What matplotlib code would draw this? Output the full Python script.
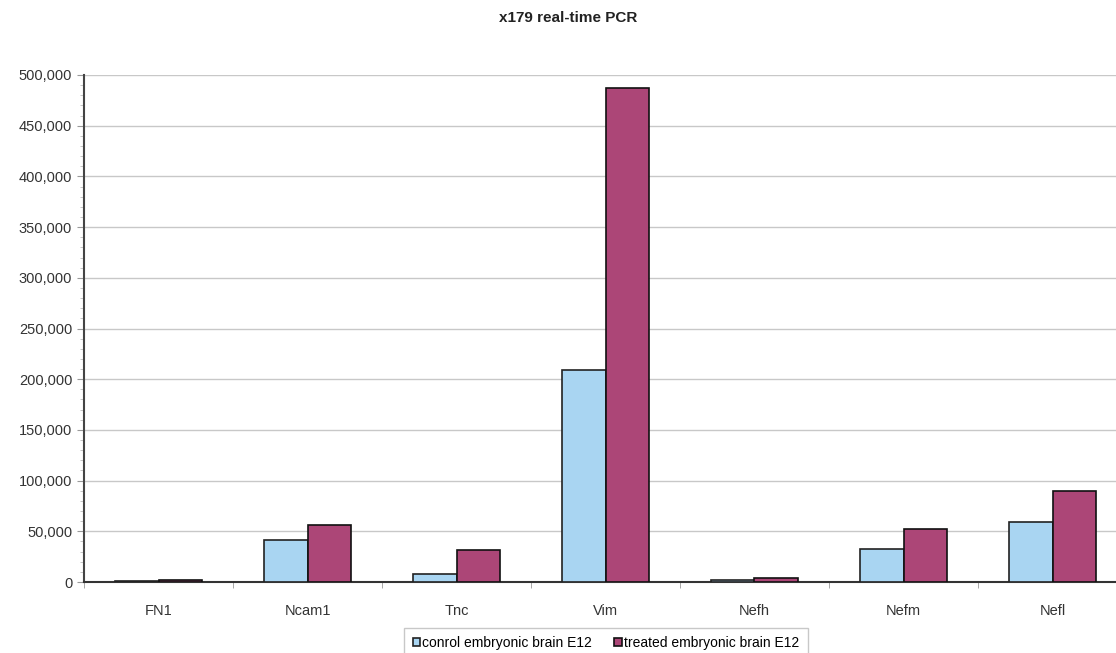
import matplotlib.pyplot as plt
import numpy as np
from matplotlib.ticker import FuncFormatter, MultipleLocator

plt.rcParams['font.family'] = ['Liberation Sans', 'DejaVu Sans']

genes = ['FN1', 'Ncam1', 'Tnc', 'Vim', 'Nefh', 'Nefm', 'Nefl']
control = [1000, 41500, 8000, 209500, 1500, 32500, 59000]
treated = [1500, 56500, 31500, 487500, 4000, 52500, 90000]
series_names = ['conrol embryonic brain E12', 'treated embryonic brain E12']

W, H = 1116, 653
fig = plt.figure(figsize=(W / 100, H / 100), dpi=100)
ax = fig.add_axes([84 / W, (H - 582) / H, 1043 / W, 507 / H])

x = np.arange(len(genes))
bw = 0.29
ax.bar(x - bw / 2, control, bw, color='#a9d5f2', edgecolor='#222222', lw=1.2,
       label=series_names[0], zorder=3)
ax.bar(x + bw / 2, treated, bw, color='#ac4677', edgecolor='#111111', lw=1.2,
       label=series_names[1], zorder=3)

ax.set_xlim(-0.5, len(genes) - 0.5)
ax.set_ylim(0, 500000)
ax.yaxis.set_major_locator(MultipleLocator(50000))
ax.yaxis.set_minor_locator(MultipleLocator(10000))
ax.yaxis.set_major_formatter(FuncFormatter(lambda v, p: f'{int(v):,}'))
ax.grid(axis='y', which='major', color='#c8c8c8', lw=1, zorder=0)

ax.set_xticks(x)
ax.set_xticklabels(genes)
ax.set_xticks(np.arange(len(genes) + 1) - 0.5, minor=True)
ax.tick_params(axis='x', which='major', length=0, pad=16, labelsize=10.5, labelcolor='#333333')
ax.tick_params(axis='x', which='minor', length=4, color='#999999')
ax.tick_params(axis='y', which='major', length=5, color='#999999', labelsize=10.5, labelcolor='#333333')
ax.tick_params(axis='y', which='minor', length=3, color='#bbbbbb')

for s in ['top', 'right']:
    ax.spines[s].set_visible(False)
ax.spines['left'].set_color('#444444')
ax.spines['left'].set_linewidth(1.5)
ax.spines['bottom'].set_color('#333333')
ax.spines['bottom'].set_linewidth(1.5)

fig.text(568 / W, 1 - 18 / H, 'x179 real-time PCR', ha='center', va='center',
         fontsize=11, fontweight='bold', color='#222222')

leg = fig.legend(loc='center', bbox_to_anchor=(606 / W, 1 - 643 / H), ncol=2,
                 fontsize=10, frameon=True, fancybox=False, handlelength=0.55,
                 handleheight=0.55, handletextpad=0.15, columnspacing=1.6,
                 borderpad=0.6)
leg.get_frame().set_edgecolor('#bbbbbb')
leg.get_frame().set_linewidth(1)

fig.savefig('out.png', dpi=100)
